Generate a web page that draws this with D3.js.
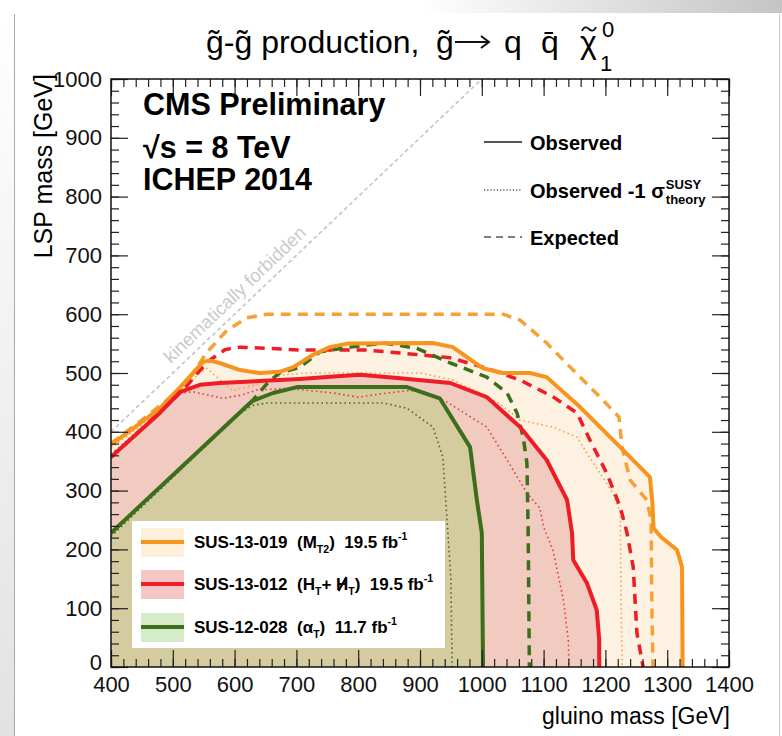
<!DOCTYPE html>
<html>
<head>
<meta charset="utf-8">
<script src="https://cdn.jsdelivr.net/npm/d3@7"></script>
<style>
body { margin: 0; background: #fff; }
svg text { font-family: "Liberation Sans", Arial, Helvetica, sans-serif; }
</style>
</head>
<body>
<script>
// limit contours, [gluino mass, LSP mass] in GeV
var mt2Obs = [[400,378],[435,405],[479,440],[512,476],[549,519],[560,521],[576,517],[609,505],[641,500],[673,502],[695,510],[727,531],[754,544],[782,550],[921,551],[953,544],[1002,508],[1034,500],[1078,500],[1105,493],[1159,442],[1224,374],[1272,323],[1276,280],[1278,236],[1290,221],[1316,199],[1324,170],[1325,0]];
var mt2Exp = [[400,380],[450,420],[500,462],[530,495],[555,535],[588,573],[620,594],[652,600],[1034,600],[1062,590],[1105,551],[1143,510],[1196,454],[1222,425],[1227,374],[1240,318],[1267,284],[1274,250],[1275,120],[1277,0]];
var mt2Minus = [[400,372],[450,412],[500,455],[540,497],[555,508],[597,470],[640,482],[680,497],[720,500],[900,500],[953,488],[1025,451],[1062,420],[1115,408],[1154,391],[1170,364],[1191,330],[1212,296],[1224,262],[1225,150],[1227,0]];

var htObs = [[400,357],[436,391],[479,432],[512,468],[544,480],[576,483],[706,490],[760,494],[803,497],[868,491],[949,483],[1008,459],[1062,408],[1105,352],[1138,284],[1146,228],[1148,182],[1170,143],[1186,97],[1190,46],[1190,0]];
var htExp = [[400,357],[450,405],[490,445],[517,471],[540,500],[560,522],[585,540],[609,544],[652,542],[706,539],[814,539],[868,534],[949,526],[1008,508],[1062,488],[1116,459],[1154,432],[1175,386],[1202,330],[1224,272],[1235,228],[1245,170],[1248,114],[1251,58],[1261,0]];
var htMinus = [[400,362],[440,398],[480,432],[512,466],[533,468],[555,463],[581,457],[609,462],[636,471],[684,474],[760,466],[800,459],[840,465],[880,470],[900,470],[943,451],[1008,408],[1041,352],[1073,296],[1094,270],[1100,238],[1115,199],[1132,114],[1140,46],[1141,0]];

var atObs = [[400,228],[628,452],[662,466],[701,476],[879,476],[932,457],[981,374],[992,284],[1000,228],[1002,0]];
var atExp = [[625,448],[636,462],[655,485],[673,500],[706,510],[738,536],[787,544],[841,551],[895,542],[949,517],[1008,493],[1041,466],[1057,432],[1067,391],[1073,347],[1075,233],[1077,0]];
var atMinus = [[400,222],[609,432],[630,445],[652,449],[841,449],[879,440],[921,408],[937,357],[943,262],[950,150],[952,0]];

var kinLine = [[400,400],[997,997]];

var xTicks = d3.range(400, 1401, 100);
var yTicks = d3.range(0, 1001, 100);

var width = 782,
    height = 736;

var margin = {top: 79, right: 53, bottom: 69, left: 111},
    graphWidth = width - margin.left - margin.right,
    graphHeight = height - margin.top - margin.bottom;

var svg = d3.select("body").append("svg")
  .attr("width", width)
  .attr("height", height)
  .attr("id", "canvas");

// slide frame bits
var defs = svg.append("defs");
var gt = defs.append("linearGradient").attr("id", "topgrad");
gt.append("stop").attr("offset", "0%").attr("stop-color", "#fff");
gt.append("stop").attr("offset", "100%").attr("stop-color", "#c4c4c4");
var gl = defs.append("linearGradient").attr("id", "leftgrad")
  .attr("x1", 0).attr("y1", 0).attr("x2", 0).attr("y2", 1);
gl.append("stop").attr("offset", "0%").attr("stop-color", "#fff");
gl.append("stop").attr("offset", "100%").attr("stop-color", "#e2e2e2");
defs.append("clipPath").attr("id", "plotclip")
  .append("rect").attr("width", graphWidth).attr("height", graphHeight);

svg.append("rect").attr("x", 420).attr("y", 0).attr("width", 362).attr("height", 13).attr("fill", "url(#topgrad)");
svg.append("rect").attr("x", 0).attr("y", 14).attr("width", 14).attr("height", 722).attr("fill", "url(#leftgrad)");
svg.append("line").attr("x1", 14.5).attr("x2", 14.5).attr("y1", 14).attr("y2", height).attr("stroke", "#a8a8a8");
svg.append("line").attr("x1", 779.5).attr("x2", 779.5).attr("y1", 14).attr("y2", height).attr("stroke", "#c8c8c8");

var g = svg.append("g")
  .attr("transform", "translate(" + margin.left + "," + margin.top + ")")
  .attr("id", "graph");

var xScale = d3.scaleLinear().domain([400, 1400]).range([0, graphWidth]);
var yScale = d3.scaleLinear().domain([0, 1000]).range([graphHeight, 0]);

var line = d3.line()
  .x(function(d) { return xScale(d[0]); })
  .y(function(d) { return yScale(d[1]); });

var plot = g.append("g").attr("clip-path", "url(#plotclip)");

// filled excluded regions
function fill(pts, color) {
  plot.append("path")
    .attr("d", line(pts.concat([[400, 0]])) + "Z")
    .attr("fill", color);
}
fill(mt2Obs, "#fdf2e1");
fill(htObs, "#f1cbbf");
fill(atObs, "#d4cb9e");

// kinematic limit
plot.append("path")
  .attr("d", line(kinLine))
  .attr("fill", "none")
  .attr("stroke", "#c4c4c4")
  .attr("stroke-width", 1.6)
  .attr("stroke-dasharray", "4,3");

g.append("text")
  .attr("transform", "translate(" + (171 - margin.left) + "," + (364 - margin.top) + ") rotate(-43.6)")
  .attr("fill", "#cacaca")
  .style("font-size", "18.5px")
  .text("kinematically forbidden");

var styles = {
  obs: {w: 4, dash: null},
  exp: {w: 3.5, dash: "10,7"},
  minus: {w: 1.6, dash: "1.6,3"}
};
function curve(pts, color, kind) {
  plot.append("path")
    .attr("d", line(pts))
    .attr("fill", "none")
    .attr("stroke", color)
    .attr("stroke-width", styles[kind].w)
    .attr("stroke-dasharray", styles[kind].dash)
    .attr("stroke-linejoin", "round");
}
curve(mt2Minus, "#f6a445", "minus");
curve(htMinus, "#e0404a", "minus");
curve(atMinus, "#4d6a2d", "minus");
curve(mt2Exp, "#f7a035", "exp");
curve(htExp, "#ee1c25", "exp");
curve(atExp, "#3c6e1c", "exp");
curve(mt2Obs, "#f7941d", "obs");
curve(htObs, "#ee1c25", "obs");
curve(atObs, "#3c6e1c", "obs");

// axes, ROOT style ticks inside the frame
function ticks(axis, minor) {
  return axis.tickValues(minor).tickSize(-8).tickFormat("");
}
var xAxis = g.append("g").attr("transform", "translate(0," + graphHeight + ")")
  .call(d3.axisBottom(xScale).tickValues(xTicks).tickSize(-17).tickPadding(9).tickFormat(d3.format("d")));
g.append("g").attr("transform", "translate(0," + graphHeight + ")")
  .call(ticks(d3.axisBottom(xScale), d3.range(400, 1401, 20)));
g.append("g").call(d3.axisTop(xScale).tickValues(xTicks).tickSize(-17).tickFormat(""));
g.append("g").call(ticks(d3.axisTop(xScale), d3.range(400, 1401, 20)));

var yAxis = g.append("g")
  .call(d3.axisLeft(yScale).tickValues(yTicks).tickSize(-17).tickPadding(9).tickFormat(d3.format("d")));
g.append("g").call(ticks(d3.axisLeft(yScale), d3.range(0, 1001, 20)));
g.append("g").attr("transform", "translate(" + graphWidth + ",0)")
  .call(d3.axisRight(yScale).tickValues(yTicks).tickSize(-17).tickFormat(""));
g.append("g").attr("transform", "translate(" + graphWidth + ",0)")
  .call(ticks(d3.axisRight(yScale), d3.range(0, 1001, 20)));

g.selectAll(".domain").remove();
g.selectAll(".tick line").attr("stroke", "#222").attr("stroke-width", 1.2);
g.selectAll(".tick text")
  .attr("fill", "#111")
  .style("font-size", "22px")
  .style("font-family", "'Liberation Sans', Arial, sans-serif");
// lift the y "0" a touch so it clears the x "400"
yAxis.selectAll(".tick text").filter(function(d) { return d == 0; }).attr("dy", "0.1em");

g.append("rect")
  .attr("width", graphWidth)
  .attr("height", graphHeight)
  .attr("fill", "none")
  .attr("stroke", "#111")
  .attr("stroke-width", 1.5);

// axis titles
svg.append("text")
  .attr("x", 730).attr("y", 724)
  .attr("text-anchor", "end")
  .style("font-size", "23px")
  .text("gluino mass [GeV]");
svg.append("text")
  .attr("transform", "translate(52,74) rotate(-90)")
  .attr("text-anchor", "end")
  .style("font-size", "25px")
  .text("LSP mass [GeV]");

// title, laid out piece by piece like ROOT's latex
var titleParts = [
  ["g\u0303-g\u0303 production,", 206, 53, 32],
  ["g\u0303", 436, 53, 32],
  ["q", 504, 53, 32],
  ["q\u0304", 541, 53, 32],
  ["\u03c7", 580, 53, 32],
  ["0", 602, 37, 22],
  ["1", 600, 71, 22]
];
titleParts.forEach(function(p) {
  svg.append("text")
    .attr("x", p[1]).attr("y", p[2])
    .style("font-size", p[3] + "px")
    .text(p[0]);
});
// long arrow
svg.append("path")
  .attr("d", "M455,42 H488 M481,36 L489,42 L481,48")
  .attr("fill", "none")
  .attr("stroke", "#111")
  .attr("stroke-width", 2)
  .attr("stroke-linejoin", "miter");
// tilde over the chi
svg.append("path")
  .attr("transform", "translate(589,29)")
  .attr("d", "M-7,2 C-5,-3 -2,-2 0,0 S5,3 7,-2")
  .attr("fill", "none")
  .attr("stroke", "#111")
  .attr("stroke-width", 1.8);

// CMS label
var cms = [["CMS Preliminary", 115], ["\u221as = 8 TeV", 158], ["ICHEP 2014", 190]];
cms.forEach(function(c) {
  svg.append("text")
    .attr("x", 143).attr("y", c[1])
    .style("font-size", "30.5px")
    .style("font-weight", "bold")
    .text(c[0]);
});

// line style legend
var styleLegend = [["Observed", "obs", 142], ["Observed -1 \u03c3", "minus", 190], ["Expected", "exp", 237]];
styleLegend.forEach(function(s) {
  svg.append("line")
    .attr("x1", 484).attr("x2", 522)
    .attr("y1", s[2]).attr("y2", s[2])
    .attr("stroke", "#555")
    .attr("stroke-width", s[1] == "obs" ? 2 : 1.6)
    .attr("stroke-dasharray", s[1] == "exp" ? "7,5" : (s[1] == "minus" ? "1.2,2" : null));
  var t = svg.append("text")
    .attr("x", 530).attr("y", s[2] + 8)
    .style("font-size", "20px")
    .style("font-weight", "bold")
    .text(s[0]);
  if (s[1] == "minus") {
    var end = 530 + t.node().getComputedTextLength() + 1;
    svg.append("text").attr("x", end).attr("y", s[2] - 1)
      .style("font-size", "13px").style("font-weight", "bold").text("SUSY");
    svg.append("text").attr("x", end).attr("y", s[2] + 14)
      .style("font-size", "13px").style("font-weight", "bold").text("theory");
  }
});

// analyses legend
var legendNames = [
  ["SUS-13-019  (M", {t: "T2", s: 0.3}, ")  19.5 fb", {t: "-1", s: -0.45}],
  ["SUS-13-012  (H", {t: "T", s: 0.3}, "+ ", {slashed: "H"}, {t: "T", s: 0.3}, ")  19.5 fb", {t: "-1", s: -0.45}],
  ["SUS-12-028  (", "\u03b1", {t: "T", s: 0.3}, ")  11.7 fb", {t: "-1", s: -0.45}]
];
var legendColors = ["#f7941d", "#ee1c25", "#3c6e1c"];
var legendFills = ["#fdefd9", "#f4c6c6", "#d6ecc9"];
var legendY = [542, 584, 627];

svg.append("rect")
  .attr("x", 132).attr("y", 521)
  .attr("width", 313).attr("height", 127)
  .attr("fill", "#fff");

legendNames.forEach(function(parts, i) {
  var cy = legendY[i];
  svg.append("rect")
    .attr("x", 141).attr("y", cy - 14)
    .attr("width", 43).attr("height", 29)
    .attr("fill", legendFills[i]);
  svg.append("line")
    .attr("x1", 141).attr("x2", 184)
    .attr("y1", cy).attr("y2", cy)
    .attr("stroke", legendColors[i])
    .attr("stroke-width", 4);
  var fs = 17, shift = 0, nchar = 0, slashAt = -1;
  var t = svg.append("text")
    .attr("x", 194).attr("y", cy + 6)
    .style("font-size", fs + "px")
    .style("font-weight", "bold")
    .style("white-space", "pre");
  parts.forEach(function(p) {
    if (typeof p == "string") {
      t.append("tspan").attr("dy", -shift).text(p);
      shift = 0;
      nchar += p.length;
    } else if (p.slashed) {
      t.append("tspan").attr("dy", -shift).text(p.slashed);
      shift = 0;
      slashAt = nchar;
      nchar += p.slashed.length;
    } else {
      var s = p.s * fs;
      t.append("tspan").attr("dy", s - shift).style("font-size", (fs * 0.62) + "px").text(p.t);
      shift = s;
      nchar += p.t.length;
    }
  });
  if (slashAt >= 0) {
    var r = t.node().getExtentOfChar(slashAt);
    svg.append("line")
      .attr("x1", r.x + r.width * 0.2).attr("y1", cy + 7)
      .attr("x2", r.x + r.width * 0.85).attr("y2", cy - 7)
      .attr("stroke", "#000")
      .attr("stroke-width", 2.2);
  }
});
</script>
</body>
</html>
